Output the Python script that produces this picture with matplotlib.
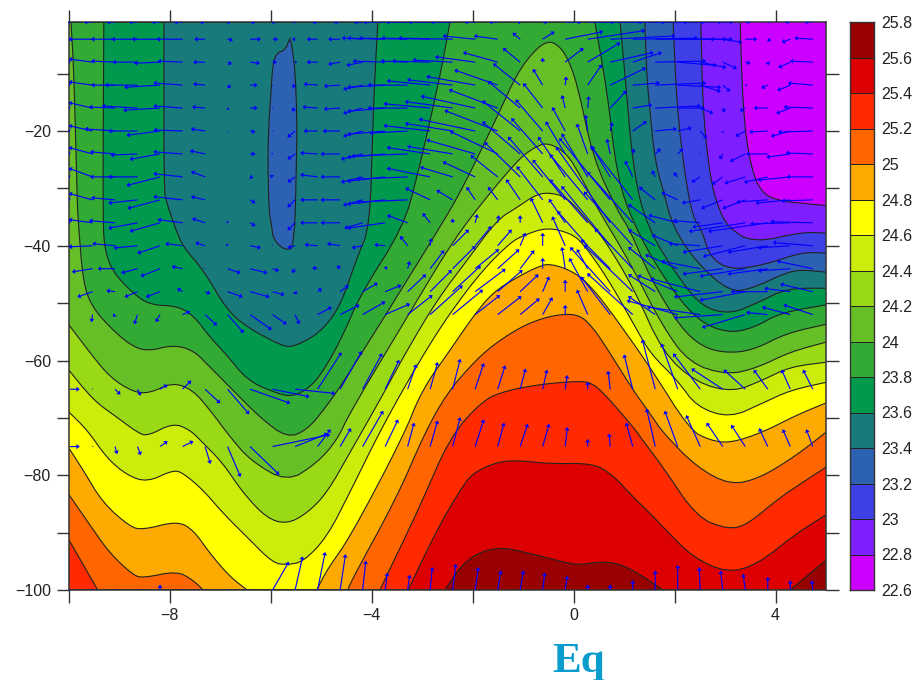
import numpy as np
import matplotlib
matplotlib.use('Agg')
import matplotlib.pyplot as plt
from matplotlib.colors import ListedColormap, BoundaryNorm
from matplotlib.ticker import FixedLocator, FixedFormatter

plt.rcParams['font.family'] = ['Liberation Sans', 'DejaVu Sans']

# Temperature classes of the colour bar
levels = [22.6, 22.8, 23.0, 23.2, 23.4, 23.6, 23.8, 24.0, 24.2, 24.4, 24.6, 24.8, 25.0, 25.2, 25.4, 25.6, 25.8]
band_colors = ['#cc00ff', '#7f1fff', '#3f3fe6', '#2d62b3', '#187a7a', '#00994d', '#33aa33', '#66bf26',
	'#99d916', '#ccec0a', '#ffff00', '#ffaa00', '#ff6600', '#ff2a00', '#dd0000', '#990000']

# Isotherms read from the section, as (longitude, depth)
iso_22_8 = [(3.30, -1), (3.33, -10.6), (3.39, -19.3), (3.49, -25.1), (3.65, -29.8), (3.95, -32.1), (4.88, -32.9), (5, -33)]
iso_23_0 = [(2.52, -1), (2.56, -16.4), (2.70, -28.0), (2.86, -33.3), (3.06, -36.8), (3.55, -39.5), (4.54, -37.6), (5, -37.8)]
iso_23_2 = [(1.97, -1), (2.05, -16.4), (2.21, -28.0), (2.36, -35.0), (2.54, -37.3), (2.70, -42.0), (3.10, -44.2), (3.75, -43.4),
	(4.54, -41.1), (5, -41.3)]
iso_23_4 = [(1.41, -1), (1.45, -10.6), (1.51, -16.4), (1.61, -25.1), (1.77, -30.3), (1.97, -36.8), (2.44, -43.0), (3.10, -48.1),
	(3.55, -47.4), (4.23, -44.6), (4.54, -44.2), (5, -44.6)]
iso_23_6 = [(-8.12, -1), (-8.12, -30.3), (-8.06, -32.6), (-7.90, -36.8), (-7.74, -40.2), (-7.34, -44.2), (-6.87, -51.2), (-6.47, -54.2),
	(-5.82, -57.3), (-5.56, -57.7), (-5.03, -55.2), (-4.63, -50.7), (-4.29, -42.0), (-4.04, -36.8), (-3.98, -19.3), (-3.94, -10.6),
	(-3.88, -1), (0.92, -1), (1.02, -10.6), (1.18, -26.8), (1.45, -36.8), (2.11, -46.0), (2.56, -50.7), (3.10, -51.9), (3.63, -50.0),
	(4.23, -47.4), (5, -47.4)]
iso_23_8 = [(-9.31, -1), (-9.33, -35.5), (-9.29, -40.8), (-9.13, -44.6), (-8.73, -48.3), (-8.40, -50.3), (-7.86, -50.5), (-7.54, -52.1),
	(-7.21, -55.9), (-6.87, -59.1), (-6.47, -63.4), (-5.96, -65.5), (-5.56, -66.4), (-5.17, -64.3), (-4.89, -60.8), (-4.57, -55.6),
	(-4.23, -48.6), (-3.38, -36.8), (-3.10, -28.0), (-2.65, -10.6), (-2.45, -1), (0.42, -1), (0.66, -12.9), (0.86, -28.0), (1.18, -36.1),
	(1.77, -45.5), (2.44, -53.0), (3.04, -55.2), (3.55, -54.4), (4.09, -51.7), (5, -50.3)]
iso_24_0 = [(-9.96, -1), (-9.90, -10.6), (-9.84, -31.5), (-9.82, -35.5), (-9.72, -46.5), (-9.54, -50.7), (-9.19, -54.2), (-8.79, -57.3),
	(-8.45, -58.4), (-7.94, -57.3), (-7.54, -58.2), (-7.21, -61.1), (-6.75, -65.2), (-6.22, -69.9), (-5.68, -73.5), (-5.28, -72.1),
	(-4.89, -67.9), (-4.43, -62.0), (-2.65, -36.8), (-2.19, -29.8), (-1.52, -17.6), (-1.12, -9.9), (-0.77, -5.9), (-0.51, -4.3),
	(-0.31, -5.0), (-0.13, -7.1), (0.07, -11.7), (0.38, -24.6), (0.86, -33.8), (1.12, -37.3), (1.51, -45.5), (2.11, -54.2), (2.56, -57.7),
	(3.04, -58.7), (3.55, -58.2), (4.23, -55.2), (5, -53.7)]
iso_24_2 = [(-10, -53.8), (-9.58, -58.7), (-9.19, -62.9), (-8.73, -65.5), (-8.40, -65.7), (-7.94, -63.8), (-7.54, -65.2), (-7.21, -68.6),
	(-6.81, -73.3), (-6.41, -77.4), (-5.68, -81.2), (-5.09, -77.9), (-4.69, -73.9), (-4.43, -69.0), (-3.10, -49.5), (-2.59, -42.0),
	(-2.09, -35.5), (-1.12, -25.1), (-0.77, -22.8), (-0.51, -22.0), (-0.13, -23.9), (0.18, -28.6), (0.46, -33.3), (1.12, -43.0),
	(1.77, -54.2), (2.30, -60.5), (3.04, -62.5), (3.63, -61.3), (4.29, -58.5), (5, -56.8)]
iso_24_4 = [(-10, -61.7), (-9.52, -66.9), (-9.05, -69.9), (-8.65, -72.5), (-8.45, -73.2), (-7.94, -70.9), (-7.60, -72.1), (-7.34, -74.4),
	(-6.95, -77.9), (-6.55, -83.1), (-6.08, -87.5), (-5.68, -88.5), (-5.28, -86.6), (-4.89, -83.1), (-4.43, -76.0), (-3.84, -66.9),
	(-3.30, -58.2), (-2.71, -49.5), (-2.11, -42.5), (-1.52, -35.5), (-1.12, -33.3), (-0.77, -31.2), (-0.51, -30.7), (-0.13, -31.5),
	(0.32, -36.1), (0.58, -38.5), (1.18, -47.2), (1.77, -58.7), (2.44, -63.9), (3.16, -65.5), (3.75, -63.4), (4.29, -61.1), (5, -60.3)]
iso_24_6 = [(-10, -69.0), (-9.64, -72.1), (-9.25, -77.0), (-8.85, -80.0), (-8.45, -81.2), (-7.94, -79.1), (-7.74, -79.6), (-7.34, -82.6),
	(-6.95, -86.6), (-6.47, -90.8), (-5.96, -95.3), (-5.68, -95.6), (-5.36, -95.1), (-4.89, -90.8), (-4.43, -82.9), (-3.78, -71.3),
	(-3.01, -59.4), (-2.45, -51.7), (-1.80, -44.2), (-1.26, -39.5), (-1.00, -38.2), (-0.53, -36.8), (-0.07, -37.8), (0.18, -39.5),
	(0.66, -45.5), (1.18, -53.5), (1.51, -58.7), (2.05, -63.4), (2.44, -68.1), (3.10, -70.0), (3.75, -67.4), (4.29, -65.2), (5, -63.8)]
iso_24_8 = [(-10, -75.3), (-9.72, -79.1), (-9.33, -84.8), (-8.79, -89.0), (-8.53, -89.5), (-7.86, -88.0), (-7.54, -89.5), (-7.21, -93.6),
	(-6.81, -97.7), (-6.47, -100), (-5.09, -100), (-4.89, -96.5), (-4.43, -90.8), (-3.38, -73.3), (-3.01, -65.2), (-2.45, -58.2),
	(-2.00, -52.4), (-1.60, -48.1), (-1.12, -45.5), (-0.77, -43.9), (-0.47, -43.0), (0.07, -44.8), (0.46, -48.3), (0.86, -53.0),
	(1.51, -61.1), (2.30, -72.1), (2.70, -73.9), (3.10, -74.4), (3.75, -72.5), (4.42, -69.5), (5, -67.4)]
iso_25_0 = [(-10, -83.4), (-9.52, -89.5), (-9.19, -93.6), (-8.73, -97.4), (-8.53, -97.9), (-7.86, -96.7), (-7.54, -98.3), (-7.34, -100),
	(-4.47, -100), (-4.43, -98.8), (-3.50, -83.8), (-2.95, -72.6), (-2.51, -65.7), (-2.00, -60.5), (-1.60, -57.3), (-1.06, -54.2),
	(-0.61, -52.6), (-0.21, -51.9), (0.12, -52.1), (0.38, -54.2), (0.72, -58.7), (1.18, -65.2), (1.51, -69.2), (1.77, -72.6),
	(2.44, -78.6), (3.10, -81.7), (3.69, -80.5), (4.42, -76.5), (5, -72.5)]
iso_25_2 = [(-10, -91.3), (-9.43, -100), (-3.84, -100), (-3.05, -85.5), (-2.45, -73.3), (-1.80, -66.9), (-1.32, -65.2), (-0.61, -64.1),
	(0.07, -63.6), (0.38, -63.9), (0.72, -66.9), (1.18, -71.6), (1.37, -73.9), (1.77, -78.6), (2.44, -87.3), (3.04, -89.4), (3.43, -88.7),
	(4.09, -83.8), (5, -78.6)]
iso_25_4 = [(-3.28, -100), (-2.71, -89.5), (-2.25, -82.6), (-2.00, -79.6), (-1.52, -77.7), (-1.12, -77.4), (-0.47, -78.0), (0.38, -77.9),
	(0.78, -80.0), (1.18, -83.8), (1.51, -86.6), (1.77, -89.0), (2.36, -94.3), (3.04, -97.0), (3.63, -95.6), (4.42, -90.1), (5, -86.9)]
iso_25_6 = [(-2.55, -100), (-2.25, -96.0), (-1.92, -93.6), (-1.46, -92.5), (-0.87, -93.6), (-0.13, -95.3), (0.12, -95.6), (0.52, -95.1),
	(0.86, -95.3), (1.25, -96.9), (1.77, -100), (4.29, -100), (5, -94.8)]
cold_core = [(-5.62, -3.8), (-5.72, -5.9), (-5.88, -6.4), (-5.96, -8.2), (-6.00, -13.4), (-6.04, -18.6), (-6.06, -24.6), (-6.04, -33.8),
	(-5.98, -36.8), (-5.96, -38.5), (-5.82, -40.2), (-5.62, -40.8), (-5.56, -39.5), (-5.52, -35.5), (-5.50, -28.0), (-5.48, -18.6),
	(-5.52, -9.4), (-5.58, -5.4), (-5.62, -3.8)]

isotherms = [iso_22_8, iso_23_0, iso_23_2, iso_23_4, iso_23_6, iso_23_8, iso_24_0, iso_24_2, iso_24_4, iso_24_6, iso_24_8, iso_25_0,
	iso_25_2, iso_25_4, iso_25_6]

# Current vectors, one row per depth, tails on these depths and longitudes
vec_lons = -9.98 + 0.446 * np.arange(34)
vec_depths = [-1, -4, -8, -12, -16, -20, -24, -28, -32, -36, -40, -44, -48, -52, -65, -75, -100]
vec_u = [
	[-3, -8, -8, -8, -8, -8, -5, 3, 5, 3, -2, -5, -6, -8, -20, -20, -20, -20, -10, -8, -3, 5, 15, 25, 30, 30, 30, 25, 20, 10, 5, 2, -5, -8],
	[-2, -22, -22, -24, -26, -24, -10, 5, 10, 5, -3, -10, -11, -14, -40, -45, -45, -50, -30, -22, -7, 11, 35, 53, 60, 60, 55, 45, 30, 18, 11, 3, -8, -17],
	[-2, -22, -22, -23, -24, -23, -11, 4, 9, 4, 2, -10, -11, -15, -30, -25, -35, -37, -37, -32, -16, 0, 17, 30, 40, 27, 47, 36, 24, 13, 5, 1, -11, -21],
	[-2, -22, -22, -30, -33, -27, -11, 3, 7, 1, -3, -13, -15, -18, -35, -37, -40, -42, -45, -40, -25, -9, 1, 13, 33, 25, 47, 40, 19, 7, 2, -6, -12, -23],
	[-2, -22, -24, -33, -34, -27, -12, 1, 7, 1, -3, -14, -15, -18, -35, -37, -43, -44, -50, -45, -30, -18, -3, 1, 15, 18, 42, 25, 12, 2, -5, -13, -13, -27],
	[-2, -22, -28, -27, -31, -27, -13, 0, 5, 1, -7, -13, -16, -18, -35, -35, -43, -44, -52, -49, -35, -25, -12, -2, 2, 13, 20, 13, 6, 0, -9, -17, -18, -32],
	[-2, -22, -23, -25, -28, -27, -14, 0, 5, -1, -7, -16, -18, -20, -35, -52, -40, -42, -45, -44, -35, -29, -18, -10, -3, 1, 5, 5, 0, -3, -14, -20, -22, -25],
	[-2, -22, -23, -27, -31, -27, -13, 0, 3, -2, -7, -16, -18, -20, -35, -47, -40, -30, -30, -25, -33, -32, -25, -24, -17, -7, -3, -4, -8, -10, -19, -22, -30, -24],
	[-2, -22, -22, -27, -30, -27, -13, 0, 5, 0, -7, -16, -18, -18, -35, -47, -23, -15, -8, -9, -13, -24, -30, -35, -47, -39, -15, -15, -17, -20, -21, -29, -32, -29],
	[-2, -22, -24, -27, -28, -23, -12, 0, 5, 0, -7, -16, -18, -17, -35, -19, -7, 0, 2, 1, 0, -11, -15, -35, -50, -42, -25, -27, -25, -28, -52, -55, -37, -39],
	[-1, -22, -21, -22, -21, -16, -9, -1, 10, 0, -7, -12, -12, -10, -10, -7, 1, 15, 15, 13, 5, 0, -12, -28, -45, -45, -25, -24, -29, -37, -39, -37, -30, -37],
	[0, -19, -16, -15, -18, -10, -1, 12, 16, 6, -3, -5, -3, 0, 2, 2, 13, 21, 22, 20, 13, 0, -3, -10, -27, -35, -25, -30, -36, -37, -42, -37, -30, -33],
	[0, -14, -8, -12, -13, -5, 5, 14, 18, 11, 1, 4, 8, 14, 15, 17, 20, 26, 28, 23, 17, 6, 0, -17, -37, -45, -25, -37, -46, -45, -42, -34, -24, -30],
	[0, -1, -2, -3, -4, 7, 11, 15, 20, 13, 4, 13, 18, 21, 23, 23, 30, 28, 23, 22, 18, 9, 0, -10, -27, -42, -25, -47, -49, -45, -40, -20, -26, -27],
	[9, 0, 5, 3, 7, 8, 14, 20, 37, 34, 37, 22, 20, 18, 13, 8, 7, 7, 8, 7, 5, 4, 2, 0, -2, -8, -12, -15, -25, -29, -20, -13, -8, -9],
	[9, 1, 2, 3, 7, 10, 5, 12, 27, 53, 30, 12, 10, 19, 12, 6, 7, 7, 8, 6, 7, 6, 2, 0, -1, -6, -8, -12, -13, -15, -13, -8, -7, -6],
	[0, 0, 0, 0, 0, 0, 0, 0, 0, 15, 7, 7, 5, 3, 2, 2, 2, 3, 3, 3, 3, 2, 2, 0, 0, 0, 0, 0, -1, -2, -2, 0, 0, -1],
]
vec_w = [
	[0] * 34,
	[0, 0, 0, 0, 0, 0, 0, -1, 0, 0, 0, 0, 0, 1, 1, 1, 1, 1, 3, 3, 6, 7, 7, 8, 3, 1, 0, 0, 0, -3, 0, -2, -3, 1],
	[1, 3, 1, 0, -1, 1, 0, -2, -1, 0, 0, 0, -2, -3, 1, 1, 1, 2, 5, 9, 13, 4, 13, 18, 9, 9, 1, -3, -5, -6, -1, -3, -5, 1],
	[1, 3, 0, 0, -2, 2, 1, -3, 0, 0, -2, 1, -1, -4, -2, 0, 4, 5, 8, 14, 20, 15, 8, 19, 16, 2, 2, -2, -6, -6, 0, -3, -5, 2],
	[1, 5, 1, 2, -2, 2, 1, -2, 0, 0, -3, 1, -1, -5, -3, 0, 4, 6, 11, 17, 25, 23, 12, 11, 16, 3, 2, 0, -5, -4, -3, 0, -5, 1],
	[1, 5, 2, 0, -4, 1, 2, -1, -1, 0, -6, 0, 0, -5, -3, -2, 5, 7, 11, 19, 28, 29, 22, 15, 8, 9, 2, 3, -7, -2, -5, -1, -5, -1],
	[1, 6, 2, -1, -5, 2, 3, 0, 0, 1, -5, 1, 0, -5, -3, -2, 6, 7, 13, 21, 30, 33, 30, 28, 14, 5, 5, 5, 1, -5, -7, 0, -3, 1],
	[1, 8, 0, 0, -8, 3, 5, 0, -1, 2, -5, 2, 0, -5, -4, -2, 8, 9, 14, 20, 32, 37, 37, 40, 28, 15, 6, 4, -5, -7, -6, -5, -3, 0],
	[1, 6, 2, -3, -8, 3, 3, 0, -3, 0, -7, 0, 0, -5, -4, -2, 11, 9, 12, 12, 19, 31, 37, 42, 57, 50, 12, 7, -3, -8, -8, -2, -3, -1],
	[1, 3, 2, -5, -8, 3, 4, 2, -3, 0, -7, 0, 0, -5, -5, 7, 9, 4, 8, 7, 7, 23, 22, 40, 70, 47, 17, 7, 2, -4, -8, -8, -1, 1],
	[0, -1, 2, -2, -7, 2, 3, 2, -2, 1, -2, 1, 2, -2, 1, 9, 7, 15, 18, 15, 12, 12, 27, 32, 55, 50, 15, 10, 2, -6, -10, -6, -2, 3],
	[0, -3, 0, -4, -7, 2, 0, -4, -4, -2, -4, 1, 3, 0, 2, 7, 17, 21, 18, 18, 17, 10, 20, 18, 27, 37, 20, 13, 7, -5, -7, -5, -2, 7],
	[0, -5, 1, -5, -5, 3, -2, -5, -5, -3, -3, 3, 6, 8, 6, 16, 20, 24, 21, 20, 16, 14, 11, 31, 41, 43, 16, 15, 12, -5, -8, 0, 3, 7],
	[0, -7, -2, -9, -7, 3, -10, -17, -14, -9, -9, 7, 9, 12, 10, 18, 27, 23, 18, 17, 15, 16, 9, 23, 35, 38, 17, 13, 7, -3, -12, 2, 7, 9],
	[0, 1, -5, -6, 4, 8, -13, -23, -13, -7, -4, 34, 35, 33, 27, 23, 25, 28, 24, 22, 19, 18, 13, 7, 17, 32, 46, 42, 33, 19, 18, 18, 18, 18],
	[0, 0, -7, -8, 5, 5, -16, -28, -26, 11, 12, 16, 17, 33, 25, 22, 24, 27, 25, 22, 21, 21, 18, 7, 12, 22, 35, 33, 29, 22, 20, 17, 16, 16],
	[1, 1, 1, 1, 5, 1, 1, 1, 1, 26, 31, 35, 33, 27, 16, 14, 21, 24, 21, 18, 18, 16, 13, 5, 5, 9, 18, 23, 21, 18, 15, 12, 9, 9],
]

lon_min, lon_max = -10, 5
depth_min, depth_max = -100, -1
line_color = '#222222'
frame_color = '#333333'


def round_corners(pts, passes=2):
	# Corner cutting so the isotherms draw as curves, points on the frame stay put
	for _ in range(passes):
		out = [pts[0]]
		for p, q in zip(pts[:-1], pts[1:]):
			p_edge = p[1] in (depth_min, depth_max) or p[0] in (lon_min, lon_max)
			q_edge = q[1] in (depth_min, depth_max) or q[0] in (lon_min, lon_max)
			if not p_edge:
				out.append(0.75 * p + 0.25 * q)
			if not q_edge:
				out.append(0.25 * p + 0.75 * q)
			else:
				out.append(q)
		pts = np.array(out)
	return pts


fig = plt.figure(figsize=(9.15, 6.8), dpi=100)
ax = fig.add_axes([69 / 915, 90 / 680, 757 / 915, 568 / 680])
ax.set_facecolor(band_colors[0])

# Paint warm side of each isotherm in turn, coldest first
for i, iso in enumerate(isotherms):
	pts = np.array(iso, dtype=float)
	if pts[0, 0] > lon_min:
		start = depth_max if pts[0, 1] == depth_max else depth_min
		pts = np.vstack([[lon_min, start], pts])
	pts = round_corners(pts)
	outline = np.vstack([pts, [lon_max, depth_min], [lon_min, depth_min]])
	ax.fill(outline[:, 0], outline[:, 1], color=band_colors[i + 1], lw=0, zorder=1 + i * 0.01)
	ax.plot(pts[:, 0], pts[:, 1], color=line_color, lw=0.8, zorder=1.5)
	if i == 3:
		core = round_corners(np.array(cold_core, dtype=float), passes=1)
		ax.fill(core[:, 0], core[:, 1], color=band_colors[3], lw=0, zorder=1.2)
		ax.plot(core[:, 0], core[:, 1], color=line_color, lw=0.8, zorder=1.5)

lon_grid, depth_grid = np.meshgrid(vec_lons, vec_depths)
ax.quiver(lon_grid, depth_grid, np.array(vec_u), np.array(vec_w), color='#0000ff', angles='uv', scale_units='dots', scale=0.92,
	units='dots', width=1.15, headwidth=4.5, headlength=3, headaxislength=2.8, minlength=0.4, pivot='tail', zorder=3)

ax.set_xlim(lon_min, lon_max)
ax.set_ylim(depth_min, depth_max)
ax.set_xticks([-8, -4, 0, 4])
ax.set_xticks([-10, -6, -2, 2], minor=True)
ax.set_yticks([-100, -80, -60, -40, -20])
ax.set_yticks([-90, -70, -50, -30, -10], minor=True)
ax.tick_params(which='both', direction='out', length=9, width=1, color=frame_color, top=True, right=True,
	labelsize=11.5, labelcolor='#222222', pad=4)
for spine in ax.spines.values():
	spine.set_color(frame_color)
	spine.set_linewidth(1.1)

# Colour bar
cax = fig.add_axes([850 / 915, 90 / 680, 24 / 915, 568 / 680])
cmap = ListedColormap(band_colors)
norm = BoundaryNorm(levels, cmap.N)
cax.pcolormesh([0, 1], levels, np.array(levels[:-1]).reshape(-1, 1) + 0.1, cmap=cmap, norm=norm, edgecolors=line_color, linewidth=0.7)
cax.set_xticks([])
cax.yaxis.tick_right()
cax.yaxis.set_major_locator(FixedLocator(levels))
cax.yaxis.set_major_formatter(FixedFormatter(['%g' % v for v in levels]))
cax.tick_params(axis='y', length=0, labelsize=11.5, labelcolor='#222222', pad=5)
for spine in cax.spines.values():
	spine.set_color(frame_color)
	spine.set_linewidth(1)

fig.text(552 / 915, 8 / 680, 'Eq', family='Liberation Serif', fontweight='bold', fontsize=31, color='#0a9ccc', ha='left', va='baseline')

fig.savefig('out.png', dpi=100)
